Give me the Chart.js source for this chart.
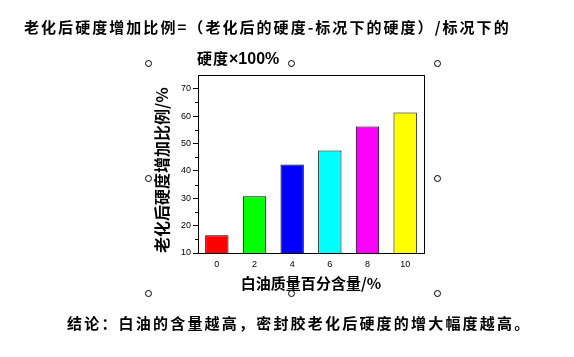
<!DOCTYPE html>
<html>
<head>
<meta charset="utf-8">
<script src="https://cdn.jsdelivr.net/npm/chart.js@4"></script>
<style>
  html, body { margin:0; padding:0; background:#fff; }
  #wrap { position:relative; width:574px; height:357px; overflow:hidden; background:#fff; }
  canvas { position:absolute; left:0; top:0; }
  .txt { position:absolute; white-space:nowrap; font-weight:bold; color:#000; font-family:"Noto Sans CJK SC", sans-serif; font-size:15px; line-height:15px; }
  .h { position:absolute; width:5px; height:5px; border:1px solid #000; border-radius:50%; background:#fff; }
</style>
</head>
<body>
<div id="wrap">
  <canvas id="c" width="574" height="357"></canvas>
  <div class="txt" id="t1" style="left:24px; top:19px; letter-spacing:2.05px;">老化后硬度增加比例=（老化后的硬度-标况下的硬度）/标况下的</div>
  <div class="txt" id="t2" style="left:197px; top:50px; letter-spacing:1px; font-family:'Noto Sans CJK SC', sans-serif;">硬度<span style="font-family:'Liberation Sans',sans-serif; font-size:16px; letter-spacing:0;">×100%</span></div>
  <div class="txt" id="t3" style="left:67px; top:315px; letter-spacing:2.2px;">结论：白油的含量越高，密封胶老化后硬度的增大幅度越高。</div>
</div>
<script>
const categories = ['0', '2', '4', '6', '8', '10'];
const values = [16.5, 30.7, 42.3, 47.4, 56.2, 61.3];
const yTickLabels = [10, 20, 30, 40, 50, 60, 70];
const yMinorTicks = [15, 25, 35, 45, 55, 65];
const xTitle = '白油质量百分含量/%';
const yTitle = '老化后硬度增加比例/%';
const barColors = ['#FF0000', '#00FF00', '#0000FF', '#00FFFF', '#FF00FF', '#FFFF00'];

// selection handles (decoration)
const handles = [[148,63],[291,63],[437,63],[148,178],[437,178],[148,293],[291,293],[437,293]];
const wrap = document.getElementById('wrap');
handles.forEach(([x,y]) => {
  const d = document.createElement('div');
  d.className = 'h';
  d.style.left = (x - 3) + 'px';
  d.style.top = (y - 3) + 'px';
  wrap.appendChild(d);
});

const framePlugin = {
  id: 'frame',
  afterDatasetsDraw(chart) {
    const {ctx, chartArea: a, scales} = chart;
    ctx.save();
    ctx.strokeStyle = '#000';
    ctx.lineWidth = 1;
    ctx.strokeRect(Math.round(a.left) + 0.5, Math.round(a.top) + 0.5, Math.round(a.right - a.left), Math.round(a.bottom - a.top));
    const y = scales.y;
    ctx.beginPath();
    yMinorTicks.forEach(v => {
      const py = Math.round(y.getPixelForValue(v)) + 0.5;
      ctx.moveTo(Math.round(a.left) - 3, py);
      ctx.lineTo(Math.round(a.left), py);
    });
    ctx.stroke();
    ctx.restore();
  }
};

new Chart(document.getElementById('c'), {
  type: 'bar',
  data: {
    labels: categories,
    datasets: [{
      data: values,
      backgroundColor: barColors,
      borderColor: '#000',
      borderWidth: 1,
      borderSkipped: false,
      barPercentage: 0.62,
      categoryPercentage: 1.0
    }]
  },
  options: {
    responsive: false,
    animation: false,
    devicePixelRatio: 1,
    layout: { padding: { left: 150, right: 150, top: 75, bottom: 57 } },
    plugins: { legend: { display: false }, tooltip: { enabled: false } },
    scales: {
      x: {
        offset: true,
        grid: { display: false, drawTicks: false },
        border: { display: true, color: '#000', width: 1 },
        ticks: { color: '#000', font: { family: 'Liberation Sans', size: 9 }, padding: 6, maxRotation: 0 },
        title: { display: true, text: xTitle, color: '#000', font: { family: 'Noto Sans CJK SC', size: 15, weight: 'bold' }, padding: { top: 0, bottom: 8 } },
        afterFit(scale) { scale.height = 47; }
      },
      y: {
        min: 10,
        max: 75,
        afterBuildTicks(scale) { scale.ticks = yTickLabels.map(v => ({ value: v })); },
        grid: { drawOnChartArea: false, drawTicks: true, tickLength: 5, tickColor: '#000' },
        border: { display: true, color: '#000', width: 1 },
        ticks: { color: '#000', font: { family: 'Liberation Sans', size: 9 }, padding: 2 },
        title: { display: true, text: yTitle, align: 'start', color: '#000', font: { family: 'Noto Sans CJK SC', size: 16, weight: 'bold' }, padding: { top: 2, bottom: 0 } },
        afterFit(scale) { scale.width = 48; }
      }
    }
  },
  plugins: [framePlugin]
});
</script>
</body>
</html>
